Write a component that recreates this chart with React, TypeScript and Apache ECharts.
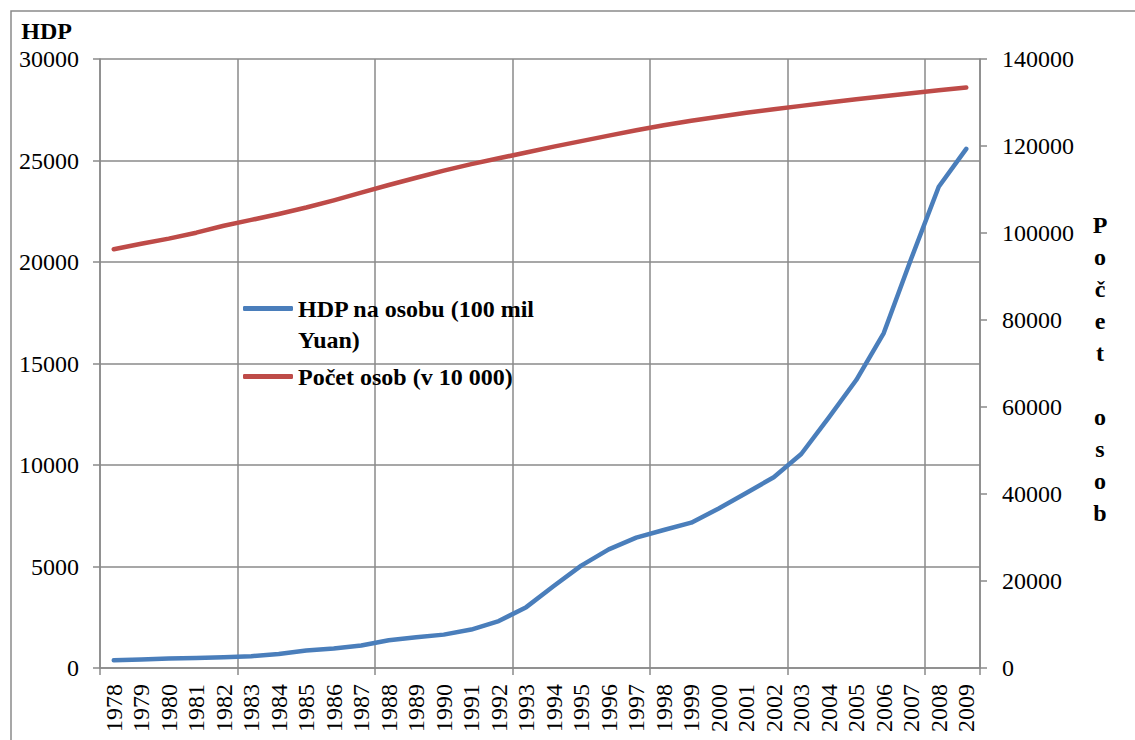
import React, { useEffect, useRef } from 'react';
import * as echarts from 'echarts';

const years = ['1978','1979','1980','1981','1982','1983','1984','1985','1986','1987','1988','1989','1990','1991','1992','1993','1994','1995','1996','1997','1998','1999','2000','2001','2002','2003','2004','2005','2006','2007','2008','2009'];
const hdpPerCapita = [381,419,463,492,528,583,695,858,963,1112,1366,1519,1644,1893,2311,2998,4044,5046,5846,6420,6796,7159,7858,8622,9398,10542,12336,14185,16500,20169,23708,25575];
const population = [96259,97542,98705,100072,101654,103008,104357,105851,107507,109300,111026,112704,114333,115823,117171,118517,119850,121121,122389,123626,124761,125786,126743,127627,128453,129227,129988,130756,131448,132129,132802,133450];

const hdpName = 'HDP na osobu (100 mil Yuan)';
const popName = 'Počet osob (v 10 000)';
const leftAxisName = 'HDP';
const rightAxisName = 'Počet osob';
const leftTicks = { min: 0, max: 30000, interval: 5000 };
const rightTicks = { min: 0, max: 140000, interval: 20000 };

const FONT = 'Liberation Serif';
const GRID = '#8a8a8a';
const BLUE = '#4A7EBB';
const RED = '#BE4B48';

const theme = {
  textStyle: { fontFamily: FONT },
  legend: { textStyle: { fontFamily: FONT } },
  categoryAxis: { axisLabel: { fontFamily: FONT }, nameTextStyle: { fontFamily: FONT } },
  valueAxis: { axisLabel: { fontFamily: FONT }, nameTextStyle: { fontFamily: FONT } },
};

export default function App() {
  const ref = useRef<HTMLDivElement>(null);
  useEffect(() => {
    const chart = echarts.init(ref.current!, theme, { renderer: 'svg' });
    const plainText = { fontFamily: FONT, fontSize: 24, fontWeight: 'normal', color: '#000' };
    const boldText = { fontFamily: FONT, fontSize: 24, fontWeight: 'bold', color: '#000' };
    const every5 = (index: number) => index % 5 === 0;
    const tick = (v: number | string) => `{t|${v}}`;
    const labelRich = { t: plainText };
    chart.setOption({
      animation: false,
      backgroundColor: '#fff',
      textStyle: { fontFamily: FONT },
      graphic: [
        {
          type: 'rect',
          silent: true,
          shape: { x: 11, y: 11, width: 1300, height: 900 },
          style: { fill: 'none', stroke: GRID, lineWidth: 1.5 },
        },
      ],
      grid: { left: 100, top: 59, right: 155, bottom: 72 },
      legend: [
        {
          data: [hdpName],
          left: 243,
          top: 262,
          padding: 0,
          icon: 'roundRect',
          itemWidth: 50,
          itemHeight: 5,
          formatter: () => '{b| }\n{b|HDP na osobu (100 mil}\n{b|Yuan)}',
          textStyle: { ...boldText, lineHeight: 31, rich: { b: { ...boldText, lineHeight: 31 } } },
        },
        {
          data: [popName],
          left: 243,
          top: 361,
          padding: 0,
          icon: 'roundRect',
          itemWidth: 50,
          itemHeight: 5,
          formatter: (name: string) => `{b|${name}}`,
          textStyle: { ...boldText, lineHeight: 31, rich: { b: { ...boldText, lineHeight: 31 } } },
        },
      ],
      xAxis: {
        type: 'category',
        data: years,
        boundaryGap: true,
        axisLine: { show: true, lineStyle: { color: GRID, width: 1.5 } },
        axisTick: { show: true, interval: every5, length: 7, lineStyle: { color: GRID, width: 1.5 } },
        splitLine: { show: true, interval: every5, lineStyle: { color: GRID, width: 1.5 } },
        axisLabel: { ...plainText, rotate: 90, interval: 0, margin: 16, formatter: tick, rich: labelRich },
      },
      yAxis: [
        {
          type: 'value',
          ...leftTicks,
          position: 'left',
          name: `{h|${leftAxisName}}`,
          nameLocation: 'end',
          nameGap: 28,
          nameTextStyle: { ...boldText, align: 'right', verticalAlign: 'middle', padding: [0, 28, 0, 0], rich: { h: boldText } },
          axisLine: { show: true, lineStyle: { color: GRID, width: 1.5 } },
          axisTick: { show: true, length: 7, lineStyle: { color: GRID, width: 1.5 } },
          splitLine: { show: true, lineStyle: { color: GRID, width: 1.5 } },
          axisLabel: { ...plainText, margin: 21, formatter: tick, rich: labelRich },
        },
        {
          type: 'value',
          ...rightTicks,
          position: 'right',
          name: '{g| }\n' + rightAxisName.split('').map((ch) => `{a|${ch}}`).join('\n'),
          nameLocation: 'middle',
          nameGap: 120,
          nameRotate: 0,
          nameTextStyle: {
            ...boldText,
            align: 'center',
            verticalAlign: 'middle',
            rich: {
              a: { ...boldText, lineHeight: 32 },
              g: { fontSize: 8, lineHeight: 10 },
            },
          },
          axisLine: { show: true, lineStyle: { color: GRID, width: 1.5 } },
          axisTick: { show: true, length: 7, lineStyle: { color: GRID, width: 1.5 } },
          splitLine: { show: false },
          axisLabel: { ...plainText, margin: 22, formatter: tick, rich: labelRich },
        },
      ],
      series: [
        {
          name: hdpName,
          type: 'line',
          yAxisIndex: 0,
          data: hdpPerCapita,
          showSymbol: false,
          color: BLUE,
          lineStyle: { color: BLUE, width: 4.5, cap: 'round', join: 'round' },
        },
        {
          name: popName,
          type: 'line',
          yAxisIndex: 1,
          data: population,
          showSymbol: false,
          color: RED,
          lineStyle: { color: RED, width: 4.5, cap: 'round', join: 'round' },
        },
      ],
    });
    return () => chart.dispose();
  }, []);
  return (
    <div
      ref={ref}
      style={{ position: 'fixed', left: 0, top: 0, width: 1135, height: 740, background: '#fff' }}
    />
  );
}
